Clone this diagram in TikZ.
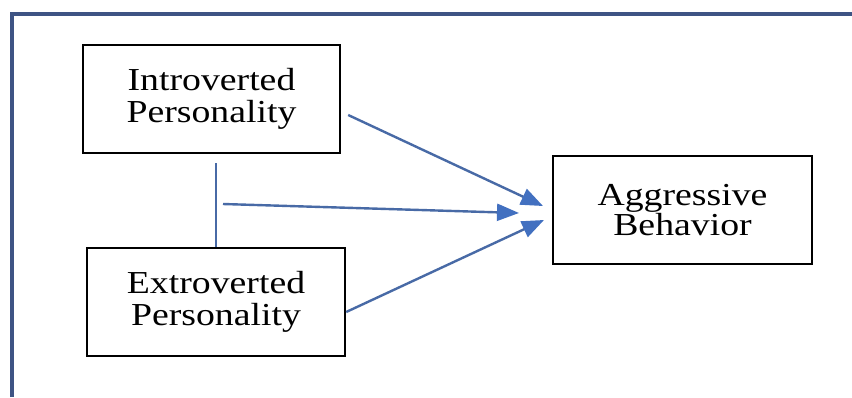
\documentclass[tikz,border=0pt]{standalone}
\usepackage{fontspec}
\setmainfont[FakeStretch=1.18]{Liberation Serif}
\usetikzlibrary{arrows.meta}
\definecolor{framecol}{RGB}{62,84,132}
\definecolor{linkcol}{RGB}{72,106,166}
\definecolor{tipcol}{RGB}{66,112,192}
\tikzset{
  varbox/.style={draw=black,line width=2.4pt,align=center,inner sep=0pt,
    font=\fontsize{32}{32}\selectfont},
  link/.style={draw=linkcol,line width=2.4pt,
    -{Triangle[length=22pt,width=17pt,fill=tipcol,color=tipcol]}}
}
\begin{document}
\begin{tikzpicture}[x=1pt,y=-1pt]
\useasboundingbox (0,0) rectangle (852,397);
\fill[white] (0,0) rectangle (852,397);
\draw[framecol,line width=4pt] (11.5,397) -- (11.5,13.5) -- (852,13.5);

\node[varbox,minimum width=257pt,minimum height=108pt] (intro) at (211.5,99) {Introverted\\Personality};
\node[varbox,minimum width=258pt,minimum height=108pt] (extro) at (216,302) {Extroverted\\Personality};
\node[varbox,minimum width=259pt,minimum height=108pt,
  font=\fontsize{32}{28}\selectfont] (aggr) at (682.5,210) {Aggressive\\Behavior};

\coordinate (jtop) at (216,163);
\coordinate (jmid) at (223,204);
\coordinate (t1) at (543,206);
\coordinate (t2) at (519,213);
\coordinate (t3) at (544,220);

\draw[linkcol,line width=2.4pt] (jtop) -- (extro.north);
\draw[link] (intro.east) ++(7,16) -- (t1);
\draw[link] (jmid) -- (t2);
\draw[link] (extro.east) ++(0,10) -- (t3);
\end{tikzpicture}
\end{document}
